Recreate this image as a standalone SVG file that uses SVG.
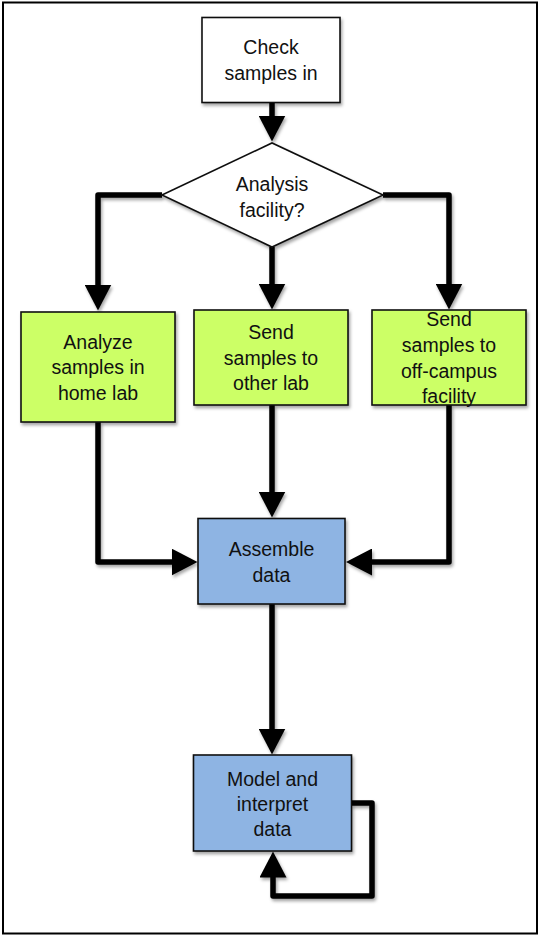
<svg xmlns="http://www.w3.org/2000/svg" width="539" height="936" viewBox="0 0 539 936">
<style>
  .box { stroke: #111; stroke-width: 1.6; filter: url(#sh); }
  .start { fill: #ffffff; }
  .green { fill: #ccff66; }
  .blue { fill: #8eb4e3; }
  .lbl { font-family: "Liberation Sans", Arial, sans-serif; font-size: 19.5px; fill: #111; text-anchor: middle; }
  .conn { fill: none; stroke: #000; stroke-width: 5.5; stroke-linejoin: round; marker-end: url(#ah); filter: url(#sh); }
</style>
<defs>
  <filter id="sh" filterUnits="userSpaceOnUse" x="0" y="0" width="539" height="936">
    <feDropShadow dx="1.5" dy="2.5" stdDeviation="1.5" flood-color="#000" flood-opacity="0.35"/>
  </filter>
  <marker id="ah" markerUnits="userSpaceOnUse" viewBox="0 0 26 27" refX="0.5" refY="13.5" markerWidth="26" markerHeight="27" orient="auto">
    <path d="M0,0 L26,13.5 L0,27 Z" fill="#000"/>
  </marker>
</defs>
<rect x="3" y="2.5" width="534" height="931" fill="#fff" stroke="#000" stroke-width="2"/>

<g id="connectors">
  <path class="conn" d="M272,103 V116"/>
  <path class="conn" d="M162,195 H98 V285"/>
  <path class="conn" d="M272,247 V284"/>
  <path class="conn" d="M383,195 H449 V284"/>
  <path class="conn" d="M98,422 V562 H172"/>
  <path class="conn" d="M272,405 V492"/>
  <path class="conn" d="M449,405 V562 H371.5"/>
  <path class="conn" d="M272,604 V729"/>
  <path class="conn" d="M351,803 H372 V896 H273 V877"/>
</g>

<g id="check">
  <rect class="box start" x="202" y="17.5" width="138" height="85"/>
  <text class="lbl" x="271" y="54">Check</text>
  <text class="lbl" x="271" y="79.5">samples in</text>
</g>

<g id="decision">
  <polygon class="box start" points="162,195 272,143 383,195 272,247"/>
  <text class="lbl" x="272" y="191">Analysis</text>
  <text class="lbl" x="272" y="216.5">facility?</text>
</g>

<g id="home">
  <rect class="box green" x="21" y="312" width="154" height="110"/>
  <text class="lbl" x="98" y="348.5">Analyze</text>
  <text class="lbl" x="98" y="374">samples in</text>
  <text class="lbl" x="98" y="399.5">home lab</text>
</g>

<g id="other">
  <rect class="box green" x="194" y="310" width="154" height="95"/>
  <text class="lbl" x="271" y="339">Send</text>
  <text class="lbl" x="271" y="364.5">samples to</text>
  <text class="lbl" x="271" y="390">other lab</text>
</g>

<g id="offcampus">
  <rect class="box green" x="372" y="310" width="154" height="95"/>
  <text class="lbl" x="449" y="326">Send</text>
  <text class="lbl" x="449" y="352">samples to</text>
  <text class="lbl" x="449" y="377.5">off-campus</text>
  <text class="lbl" x="449" y="403">facility</text>
</g>

<g id="assemble">
  <rect class="box blue" x="198" y="518.5" width="147" height="85.5"/>
  <text class="lbl" x="271.5" y="556">Assemble</text>
  <text class="lbl" x="271.5" y="581.5">data</text>
</g>

<g id="model">
  <rect class="box blue" x="193.5" y="755" width="158" height="96"/>
  <text class="lbl" x="272.5" y="786">Model and</text>
  <text class="lbl" x="272.5" y="811">interpret</text>
  <text class="lbl" x="272.5" y="836">data</text>
</g>
</svg>
